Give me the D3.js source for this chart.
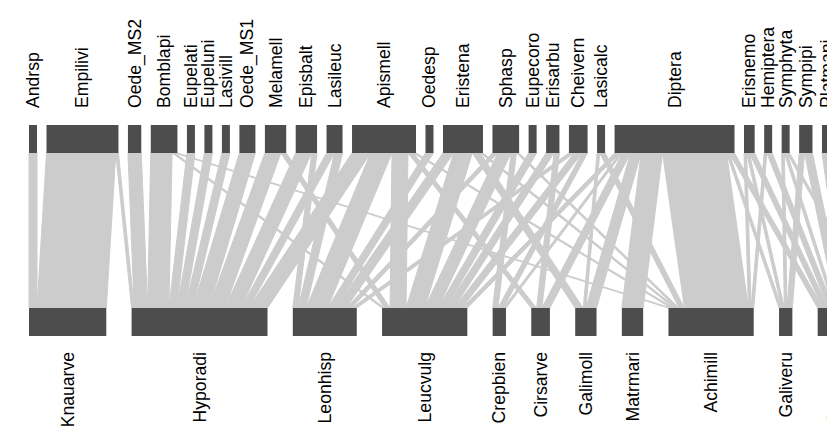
<!DOCTYPE html>
<html>
<head>
<meta charset="utf-8">
<script src="https://cdn.jsdelivr.net/npm/d3@7"></script>
<style>
body { margin: 0; background: white; }
svg { display: block; }
text { font-family: "Liberation Sans", Arial, sans-serif; font-size: 17.6px; fill: black; }
</style>
</head>
<body>
<svg width="827" height="433"></svg>
<script>
// pollinators (upper row) and plants (lower row), in drawing order
const top_species = ["Andrsp", "Empilivi", "Oede_MS2", "Bomblapi", "Eupelati", "Eupeluni", "Lasivill",
    "Oede_MS1", "Melamell", "Episbalt", "Lasileuc", "Apismell", "Oedesp", "Eristena", "Sphasp",
    "Eupecoro", "Erisarbu", "Cheivern", "Lasicalc", "Diptera", "Erisnemo", "Hemiptera", "Symphyta",
    "Sympipi", "Platmani", "Syrpcoro"]

const bottom_species = ["Knauarve", "Hyporadi", "Leonhisp", "Leucvulg", "Crepbien", "Cirsarve",
    "Galimoll", "Matrmari", "Achimill", "Galiveru", "Gerapyre", "Tarooffi"]

// number of visits: [pollinator, plant, count]
const links = [
    ["Andrsp", "Knauarve", 3],
    ["Empilivi", "Knauarve", 26], ["Empilivi", "Hyporadi", 1],
    ["Oede_MS2", "Hyporadi", 5],
    ["Bomblapi", "Hyporadi", 8], ["Bomblapi", "Leucvulg", 1], ["Bomblapi", "Achimill", 1],
    ["Eupelati", "Hyporadi", 3],
    ["Eupeluni", "Hyporadi", 3],
    ["Lasivill", "Hyporadi", 3],
    ["Oede_MS1", "Hyporadi", 6],
    ["Melamell", "Hyporadi", 6], ["Melamell", "Leucvulg", 2],
    ["Episbalt", "Hyporadi", 6], ["Episbalt", "Leonhisp", 2],
    ["Lasileuc", "Hyporadi", 3], ["Lasileuc", "Leonhisp", 3],
    ["Apismell", "Hyporadi", 7], ["Apismell", "Leonhisp", 8], ["Apismell", "Leucvulg", 6],
    ["Apismell", "Cirsarve", 2], ["Apismell", "Achimill", 1],
    ["Oedesp", "Leonhisp", 3],
    ["Eristena", "Leonhisp", 4], ["Eristena", "Leucvulg", 7], ["Eristena", "Galimoll", 3], ["Eristena", "Achimill", 1],
    ["Sphasp", "Leonhisp", 2], ["Sphasp", "Leucvulg", 5], ["Sphasp", "Crepbien", 2], ["Sphasp", "Achimill", 1],
    ["Eupecoro", "Leucvulg", 3],
    ["Erisarbu", "Leucvulg", 3], ["Erisarbu", "Cirsarve", 2],
    ["Cheivern", "Leonhisp", 2], ["Cheivern", "Leucvulg", 3], ["Cheivern", "Crepbien", 2],
    ["Lasicalc", "Galimoll", 1], ["Lasicalc", "Achimill", 2],
    ["Diptera", "Leucvulg", 2], ["Diptera", "Crepbien", 1], ["Diptera", "Cirsarve", 3], ["Diptera", "Galimoll", 4],
    ["Diptera", "Matrmari", 8], ["Diptera", "Achimill", 24], ["Diptera", "Galiveru", 1], ["Diptera", "Gerapyre", 2],
    ["Erisnemo", "Achimill", 1], ["Erisnemo", "Galiveru", 1], ["Erisnemo", "Gerapyre", 2],
    ["Hemiptera", "Achimill", 1], ["Hemiptera", "Gerapyre", 2],
    ["Symphyta", "Galiveru", 1], ["Symphyta", "Gerapyre", 1], ["Symphyta", "Tarooffi", 1],
    ["Sympipi", "Galiveru", 2], ["Sympipi", "Gerapyre", 3],
    ["Platmani", "Gerapyre", 2], ["Platmani", "Tarooffi", 2],
    ["Syrpcoro", "Tarooffi", 5]
]

const x_start = 29
const top_gap = 9.5
const bottom_gap = 25.3
const unit_width = 2.665
const top_box = [125, 153]
const bottom_box = [308, 336]
const top_label_y = 108
const bottom_label_y = 352
const box_colour = "#4d4d4d"
const link_colour = "#cccccc"

const w = d3.scaleLinear().domain([0, 1]).range([0, unit_width])

const edges = links.map(([t, b, v]) => ({ t: t, b: b, v: v }))
const top_index = new Map(top_species.map((s, i) => [s, i]))
const bottom_index = new Map(bottom_species.map((s, i) => [s, i]))

function layout_row(names, key, gap) {
    const totals = d3.rollup(edges, v => d3.sum(v, e => e.v), e => e[key])
    let x = x_start
    return names.map(name => {
        const box = { name: name, x0: x, x1: x + w(totals.get(name) || 0) }
        x = box.x1 + gap
        return box
    })
}

const top_boxes = layout_row(top_species, "t", top_gap)
const bottom_boxes = layout_row(bottom_species, "b", bottom_gap)

// split each box into link segments, sorted by the partner's position
top_boxes.forEach(box => {
    let cursor = box.x0
    edges.filter(e => e.t === box.name)
        .sort((a, b) => bottom_index.get(a.b) - bottom_index.get(b.b))
        .forEach(e => { e.tx0 = cursor; cursor += w(e.v); e.tx1 = cursor })
})
bottom_boxes.forEach(box => {
    let cursor = box.x0
    edges.filter(e => e.b === box.name)
        .sort((a, b) => top_index.get(a.t) - top_index.get(b.t))
        .forEach(e => { e.bx0 = cursor; cursor += w(e.v); e.bx1 = cursor })
})

const svg = d3.select("svg")

svg.append("g")
    .selectAll("polygon")
    .data(edges)
    .enter()
    .append("polygon")
    .attr("points", e => [[e.tx0, top_box[1]], [e.tx1, top_box[1]], [e.bx1, bottom_box[0]], [e.bx0, bottom_box[0]]].join(" "))
    .attr("fill", link_colour)
    .attr("stroke", link_colour)
    .attr("stroke-width", 1)

svg.append("g")
    .selectAll("rect")
    .data(top_boxes)
    .enter()
    .append("rect")
    .attr("x", d => d.x0)
    .attr("y", top_box[0])
    .attr("width", d => d.x1 - d.x0)
    .attr("height", top_box[1] - top_box[0])
    .attr("fill", box_colour)

svg.append("g")
    .selectAll("rect")
    .data(bottom_boxes)
    .enter()
    .append("rect")
    .attr("x", d => d.x0)
    .attr("y", bottom_box[0])
    .attr("width", d => d.x1 - d.x0)
    .attr("height", bottom_box[1] - bottom_box[0])
    .attr("fill", box_colour)

svg.append("g")
    .selectAll("text")
    .data(top_boxes)
    .enter()
    .append("text")
    .attr("transform", d => `translate(${(d.x0 + d.x1) / 2},${top_label_y}) rotate(-90)`)
    .attr("text-anchor", "start")
    .attr("dominant-baseline", "central")
    .text(d => d.name)

svg.append("g")
    .selectAll("text")
    .data(bottom_boxes)
    .enter()
    .append("text")
    .attr("transform", d => `translate(${(d.x0 + d.x1) / 2},${bottom_label_y}) rotate(-90)`)
    .attr("text-anchor", "end")
    .attr("dominant-baseline", "central")
    .text(d => d.name)
</script>
</body>
</html>
